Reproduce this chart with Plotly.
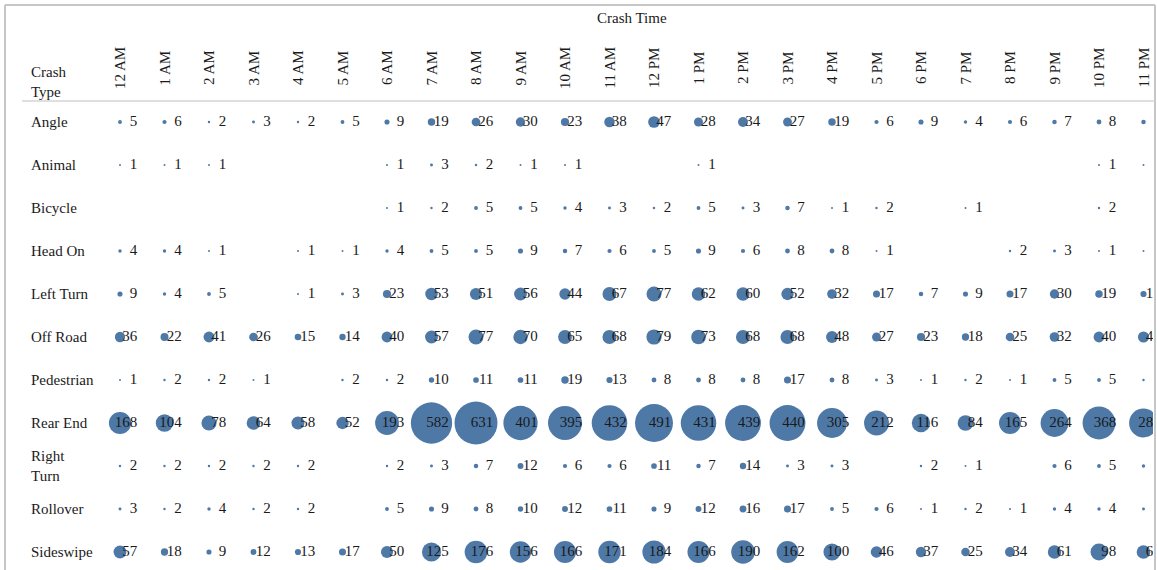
import plotly.graph_objects as go

hours = ["12 AM", "1 AM", "2 AM", "3 AM", "4 AM", "5 AM", "6 AM", "7 AM", "8 AM", "9 AM",
         "10 AM", "11 AM", "12 PM", "1 PM", "2 PM", "3 PM", "4 PM", "5 PM", "6 PM", "7 PM",
         "8 PM", "9 PM", "10 PM", "11 PM"]

crash_types = ["Angle", "Animal", "Bicycle", "Head On", "Left Turn", "Off Road", "Pedestrian",
               "Rear End", "Right Turn", "Rollover", "Sideswipe"]

N = None
angle      = [5, 6, 2, 3, 2, 5, 9, 19, 26, 30, 23, 38, 47, 28, 34, 27, 19, 6, 9, 4, 6, 7, 8, 7]
animal     = [1, 1, 1, N, N, N, 1, 3, 2, 1, 1, N, N, 1, N, N, N, N, N, N, N, N, 1, 1]
bicycle    = [N, N, N, N, N, N, 1, 2, 5, 5, 4, 3, 2, 5, 3, 7, 1, 2, N, 1, N, N, 2, N]
head_on    = [4, 4, 1, N, 1, 1, 4, 5, 5, 9, 7, 6, 5, 9, 6, 8, 8, 1, N, N, 2, 3, 1, 1]
left_turn  = [9, 4, 5, N, 1, 3, 23, 53, 51, 56, 44, 67, 77, 62, 60, 52, 32, 17, 7, 9, 17, 30, 19, 13]
off_road   = [36, 22, 41, 26, 15, 14, 40, 57, 77, 70, 65, 68, 79, 73, 68, 68, 48, 27, 23, 18, 25, 32, 40, 42]
pedestrian = [1, 2, 2, 1, N, 2, 2, 10, 11, 11, 19, 13, 8, 8, 8, 17, 8, 3, 1, 2, 1, 5, 5, 2]
rear_end   = [168, 104, 78, 64, 58, 52, 193, 582, 631, 401, 395, 432, 491, 431, 439, 440, 305, 212, 116, 84, 165, 264, 368, 283]
right_turn = [2, 2, 2, 2, 2, N, 2, 3, 7, 12, 6, 6, 11, 7, 14, 3, 3, N, 2, 1, N, 6, 5, 4]
rollover   = [3, 2, 4, 2, 2, N, 5, 9, 8, 10, 12, 11, 9, 12, 16, 17, 5, 6, 1, 2, 1, 4, 4, 3]
sideswipe  = [57, 18, 9, 12, 13, 17, 50, 125, 176, 156, 166, 171, 184, 166, 190, 162, 100, 46, 37, 25, 34, 61, 98, 64]

rows = [angle, animal, bicycle, head_on, left_turn, off_road, pedestrian,
        rear_end, right_turn, rollover, sideswipe]

BLUE = "#4E79A7"
FONT = "Liberation Serif"
TXT = "#1a1a1a"

xs, ys, vs = [], [], []
for r, vals in enumerate(rows):
    for c, v in enumerate(vals):
        if v is not None:
            xs.append(c)
            ys.append(r)
            vs.append(v)

max_d = 43
sizeref = 2.0 * max(vs) / (max_d ** 2)
label_dx = 0.39  # label right edge offset (in column units)

fig = go.Figure()
fig.add_trace(go.Scatter(
    x=xs, y=ys, mode="markers",
    marker=dict(size=vs, sizemode="area", sizeref=sizeref, sizemin=1,
                color=BLUE, line=dict(width=0), opacity=1),
    hoverinfo="skip", cliponaxis=True, showlegend=False))
fig.add_trace(go.Scatter(
    x=[x + label_dx for x in xs], y=ys, mode="text",
    text=[str(v) for v in vs], textposition="middle left",
    textfont=dict(family=FONT, size=15, color=TXT),
    hoverinfo="skip", cliponaxis=True, showlegend=False))

W, H = 1157, 570
L, R, T, B = 98, 4, 102, 0
pw, ph = W - L - R, H - T - B


def px_x(px):
    return (px - L) / pw


def px_y(py):
    return (H - B - py) / ph


annotations = []
for i, h in enumerate(hours):
    annotations.append(dict(x=i, xref="x", y=px_y(68), yref="paper", text=h,
                            textangle=-90, showarrow=False, xanchor="center", yanchor="middle",
                            font=dict(family=FONT, size=15, color=TXT)))
for r, name in enumerate(crash_types):
    label = name.replace(" ", "<br>") if name == "Right Turn" else name
    annotations.append(dict(x=px_x(29), xref="paper", y=r, yref="y", text=label,
                            showarrow=False, xanchor="left", yanchor="middle", align="left",
                            font=dict(family=FONT, size=15, color=TXT)))
annotations.append(dict(x=px_x(29), xref="paper", y=px_y(82), yref="paper", text="Crash<br>Type",
                        showarrow=False, xanchor="left", yanchor="middle", align="left",
                        font=dict(family=FONT, size=15, color=TXT)))
annotations.append(dict(x=(len(hours) - 1) / 2, xref="x", y=px_y(18), yref="paper", text="Crash Time",
                        showarrow=False, xanchor="center", yanchor="middle",
                        font=dict(family=FONT, size=15, color=TXT)))

GRAY = "#c6c6c6"
shapes = [
    dict(type="line", xref="paper", yref="paper", x0=px_x(5), x1=px_x(1155), y0=px_y(5), y1=px_y(5),
         line=dict(color=GRAY, width=2)),
    dict(type="line", xref="paper", yref="paper", x0=px_x(5), x1=px_x(5), y0=px_y(5), y1=px_y(570),
         line=dict(color=GRAY, width=2)),
    dict(type="line", xref="paper", yref="paper", x0=px_x(1155), x1=px_x(1155), y0=px_y(5), y1=px_y(570),
         line=dict(color=GRAY, width=2)),
    dict(type="line", xref="paper", yref="paper", x0=px_x(22), x1=px_x(1155), y0=px_y(101), y1=px_y(101),
         line=dict(color="#d4d4d4", width=1.5)),
]

col_w = 44.5
row_h = 43
fig.update_layout(
    width=W, height=H,
    margin=dict(l=L, r=R, t=T, b=B, pad=0),
    paper_bgcolor="white", plot_bgcolor="white",
    xaxis=dict(range=[(L - 120) / col_w, (W - R - 120) / col_w], visible=False, fixedrange=True),
    yaxis=dict(range=[(H - B - 122) / row_h, (T - 122) / row_h], visible=False, fixedrange=True),
    annotations=annotations, shapes=shapes, showlegend=False,
)

fig.write_html("out.html", config={"displayModeBar": False},
               post_script="document.body.style.margin='0';document.body.style.overflow='hidden';")
